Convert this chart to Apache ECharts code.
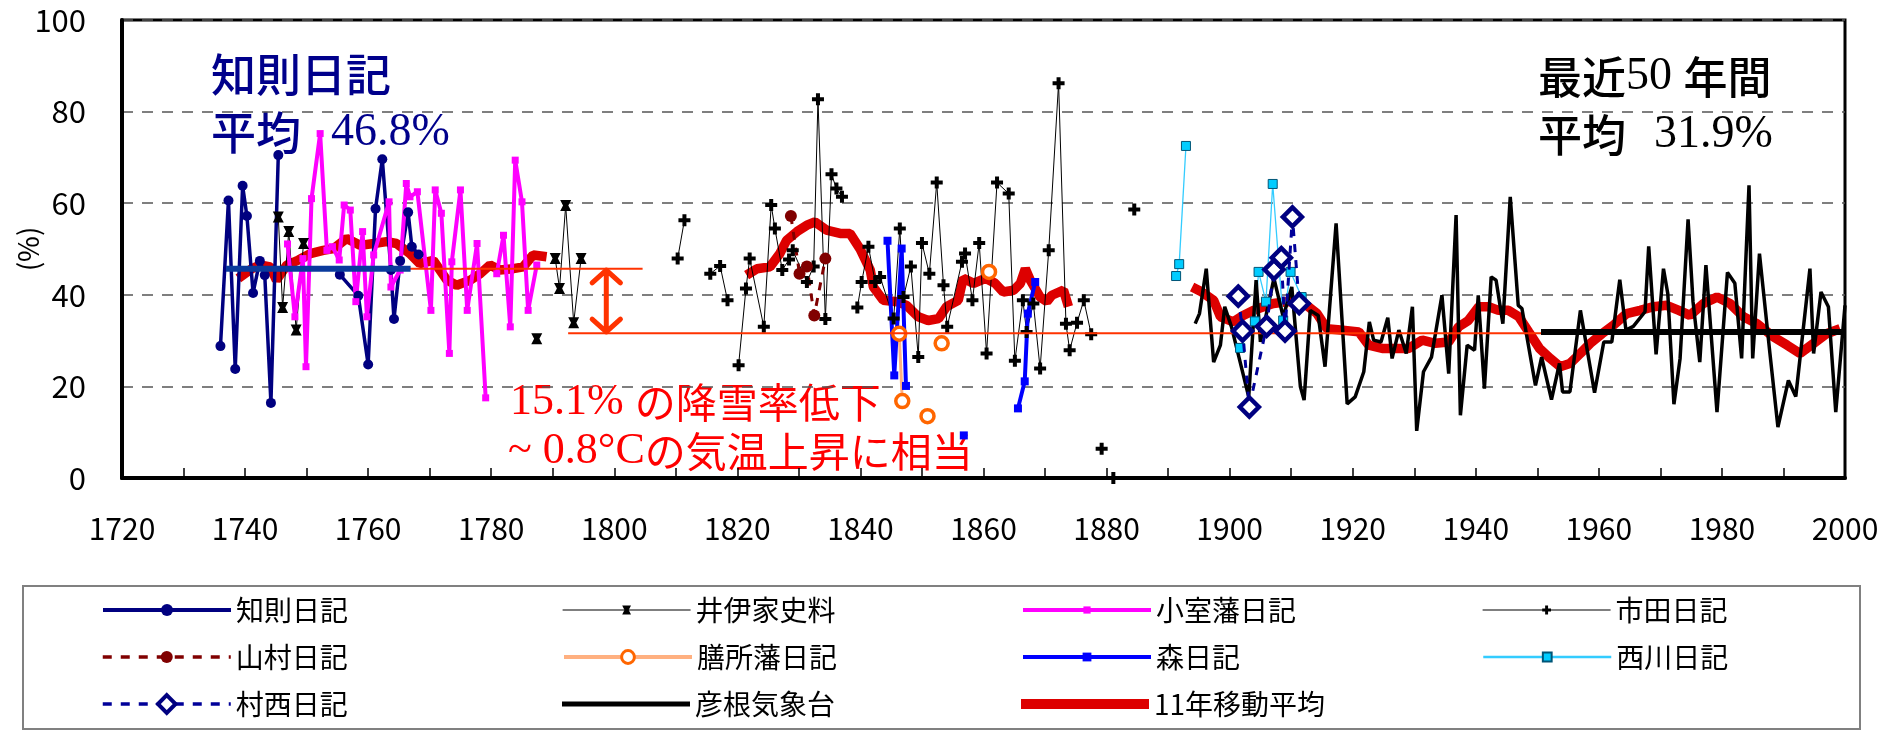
<!DOCTYPE html>
<html>
<head>
<meta charset="utf-8">
<script src="https://cdn.jsdelivr.net/npm/echarts@6/dist/echarts.min.js"></script>
<style>
html,body{margin:0;padding:0;background:#fff;}
#chart{width:1885px;height:732px;}
</style>
</head>
<body>
<div id="chart"></div>
<script>
// ---- data (year, snowfall ratio %) ----
const tomonori = [[1736.0,28.8],[1737.3,60.6],[1738.4,23.8],[1739.6,63.8],[1740.3,57.2],[1741.3,40.4],[1742.4,47.4],[1743.2,44.3],[1744.2,16.4],[1745.4,70.5],[1750,null],[1755.4,44.4],[1758.4,39.8],[1760.0,24.8],[1761.2,58.8],[1762.3,69.6],[1763.7,45.4],[1764.2,34.7],[1765.2,47.4],[1766.5,58.0],[1767.1,50.5],[1768.2,48.8]];
const iiKe = [[1745.4,57.0],[1746.1,37.2],[1747.1,53.8],[1748.3,32.3],[1749.5,51.2],[1750,null],[1787.4,30.4],[1788,null],[1790.4,47.9],[1791.1,41.4],[1792.1,59.5],[1793.4,33.9],[1794.6,47.9]];
const komuro = [[1746.9,51.1],[1748.1,35.2],[1749.4,47.9],[1749.9,24.3],[1750.8,61.0],[1752.2,75.2],[1753.3,49.7],[1754.2,50.5],[1755.3,47.6],[1756.1,59.6],[1757.1,58.5],[1758.0,38.5],[1759.1,53.8],[1759.8,35.2],[1760.9,48.7],[1763.4,60.3],[1763.7,41.7],[1765.2,45.4],[1766.2,64.3],[1766.8,61.4],[1768.0,62.5],[1770.2,36.6],[1770.9,62.9],[1771.9,57.8],[1773.2,27.2],[1773.6,47.2],[1775.0,62.9],[1776.1,36.6],[1777.7,51.2],[1779.1,17.5],[1780,null],[1780.9,44.6],[1782.0,53.0],[1783.1,33.0],[1783.9,69.4],[1785.0,60.3],[1786.0,36.6],[1787.4,46.5]];
const ichida = [[1810.3,47.9],[1811.4,56.3],[1813,null],[1815.6,44.6],[1817.2,46.3],[1818.4,38.8],[1819,null],[1820.2,24.6],[1821.4,41.4],[1822.0,47.9],[1824.3,33.0],[1825.5,59.6],[1826.1,54.5],[1827.3,45.4],[1828.4,47.7],[1829.0,49.7],[1831.3,42.8],[1832.4,46.2],[1833.1,82.7],[1834.3,34.7],[1835.3,66.3],[1836.1,63.2],[1837.0,61.4],[1838,null],[1839.5,37.2],[1840.2,42.8],[1841.3,50.5],[1842.4,42.8],[1843.2,43.9],[1845.4,34.8],[1846.4,54.5],[1847.0,39.5],[1848.2,46.2],[1849.4,26.4],[1850.0,51.3],[1851.2,44.6],[1852.4,64.5],[1853.5,42.1],[1854.1,33.0],[1856.5,47.2],[1857.0,49.0],[1858.2,38.8],[1859.3,51.3],[1860.5,27.2],[1862.2,64.5],[1864.1,62.1],[1865.1,25.6],[1866.4,38.8],[1867.0,31.9],[1868.1,38.1],[1869.2,23.9],[1870.6,49.7],[1872.2,86.2],[1873.4,33.7],[1874.0,27.9],[1875.2,33.9],[1876.3,38.8],[1877.5,31.4],[1878,null],[1879.2,6.4],[1880,null],[1881.1,0],[1882,null],[1884.5,58.6]];
const yamamura = [[1828.7,57.2],[1830.1,44.6],[1831.3,46.2],[1832.5,35.5],[1834.3,47.9]];
const zeze = [[1846.3,31.5],[1846.8,16.8],[1848,null],[1850.9,13.5],[1852,null],[1853.2,29.4],[1854,null],[1860.9,45.0]];
const mori = [[1844.4,51.8],[1845.5,22.4],[1846.7,50.1],[1847.4,20.1],[1848,null],[1856.8,9.3],[1858,null],[1865.6,15.2],[1866.7,21.1],[1867.2,35.9],[1868.4,42.8]];
const nishikawa = [[1891.3,44.1],[1891.8,46.7],[1892.9,72.5],[1895,null],[1901.7,28.4],[1904.1,34.2],[1904.7,45.0],[1905.9,38.5],[1907.0,64.2],[1908.7,34.4],[1909.9,45.0],[1911.7,39.5]];
const muranishi = [[1901.4,39.7],[1902.1,32.1],[1903.2,15.5],[1906.0,33.1],[1907.2,45.5],[1908.4,48.1],[1909.0,32.1],[1910.2,57.0],[1911.3,38.1]];
const hikone = [[1894.4,33.7],[1895.1,35.9],[1896.2,45.7],[1897.4,25.3],[1898.5,29.0],[1899.2,37.4],[1900.3,33.0],[1903.1,17.7],[1904.3,43.2],[1905.0,29.7],[1907.2,43.6],[1908.7,35.2],[1910.1,41.7],[1911.5,19.9],[1912.1,17.0],[1913.1,36.6],[1914.4,35.5],[1915.5,24.3],[1917.3,55.6],[1919.1,16.2],[1920.4,17.7],[1921.8,23.2],[1922.7,34.1],[1923.4,30.1],[1924.6,29.7],[1925.7,35.0],[1926.4,26.1],[1927.5,32.3],[1928.7,27.2],[1929.7,37.4],[1930.4,10.3],[1931.5,23.2],[1932.8,26.4],[1934.5,39.9],[1935.6,22.8],[1936.8,57.4],[1937.5,13.7],[1938.6,29.0],[1939.8,27.9],[1940.4,39.9],[1941.4,19.5],[1942.5,43.9],[1943.3,43.2],[1944.4,33.7],[1945.6,61.4],[1946.9,37.7],[1947.5,37.0],[1949.7,20.2],[1950.7,26.4],[1952.3,17.1],[1953.6,25.0],[1954.1,18.8],[1955.3,18.8],[1957.0,36.6],[1959.3,18.6],[1960.8,29.7],[1962.1,29.7],[1963.4,43.3],[1964.4,32.3],[1965.6,33.1],[1967.5,36.3],[1968.1,50.6],[1969.3,27.0],[1970.5,45.7],[1971.2,40.3],[1972.2,16.1],[1973.2,26.1],[1974.5,56.5],[1975.3,38.5],[1976.4,25.3],[1977.4,46.5],[1979.2,14.4],[1980.9,44.9],[1982.1,42.5],[1983.2,26.1],[1984.4,63.9],[1985.0,26.1],[1986.1,49.0],[1987.8,27.2],[1989.1,11.1],[1990.8,21.3],[1992.0,17.8],[1994.3,45.7],[1994.9,27.2],[1996.1,40.6],[1997.3,37.4],[1998.5,14.4],[2000.0,37.7]];
const movingAvg = [[1738.9,43.6],[1741.1,45.7],[1742.4,46.5],[1744.1,46.1],[1745.1,43.2],[1746.8,46.5],[1748.7,47.6],[1750.6,49.0],[1752.7,49.7],[1754.4,50.1],[1756.5,52.3],[1758.7,50.8],[1760.9,51.2],[1763.0,51.6],[1764.6,51.2],[1766.8,49.0],[1768.4,46.8],[1770.6,47.5],[1772.8,43.2],[1774.4,42.1],[1776.6,43.2],[1778.2,44.6],[1779.8,46.5],[1781.4,45.4],[1783.6,45.7],[1785.2,46.1],[1786.8,48.7],[1789.0,48.3],[1800,null],
 [1821.5,44.3],[1823.2,45.7],[1825.3,46.1],[1826.9,49.0],[1828.0,51.9],[1829.7,53.8],[1831.3,55.2],[1832.6,55.9],[1834.5,54.1],[1836.7,53.4],[1838.3,53.4],[1839.9,50.1],[1841.6,45.4],[1842.1,41.7],[1843.7,38.8],[1845.9,38.5],[1847.5,37.7],[1849.4,35.2],[1851.0,34.4],[1852.7,34.8],[1854.0,37.4],[1855.9,38.8],[1856.7,43.6],[1858.4,42.5],[1860.3,43.6],[1861.9,42.5],[1863.2,40.6],[1864.9,41.0],[1866.0,42.5],[1866.8,45.7],[1867.6,43.2],[1869.2,39.5],[1870.3,38.5],[1871.1,39.9],[1873.0,41.0],[1873.8,37.4],[1880,null],
 [1893.9,41.7],[1895.5,40.6],[1897.4,38.8],[1898.5,35.2],[1900.6,34.1],[1902.2,35.5],[1903.9,36.6],[1905.5,37.4],[1907.1,38.1],[1909.3,38.5],[1910.9,38.5],[1912.5,37.7],[1914.2,35.9],[1915.8,32.6],[1918.0,32.3],[1921.0,31.9],[1922.6,29.0],[1924.8,28.3],[1926.9,28.3],[1929.1,28.3],[1931.3,30.1],[1933.4,29.4],[1935.6,29.7],[1937.2,33.0],[1938.8,34.4],[1940.5,37.4],[1942.1,37.4],[1943.7,36.6],[1945.3,36.6],[1947.0,35.2],[1948.6,31.9],[1950.4,28.2],[1952.1,26.1],[1953.7,24.3],[1955.3,25.0],[1957.0,27.2],[1958.6,29.4],[1960.5,31.5],[1962.4,33.4],[1964.5,35.9],[1966.7,36.6],[1968.9,37.4],[1971.0,37.7],[1973.0,36.6],[1974.8,35.5],[1977.0,38.1],[1979.2,39.5],[1981.3,38.1],[1983.5,35.2],[1985.7,33.7],[1988.4,30.8],[1990.6,29.0],[1992.7,27.2],[1994.9,29.4],[1997.0,31.5],[1999.2,32.6]];
const meanTomonori = [[1736.9,45.7],[1766.9,45.7]];
const refUpper = [[1737.0,45.7],[1804.6,45.7]];
const refLower = [[1792.5,31.6],[1950.8,31.6]];
const meanRecent = [[1950.6,31.9],[1999.5,31.9]];
const arrowPts = [[1796.4,42.6],[1798.7,45.4],[1801.0,42.6],[1798.7,null],[1798.7,45.4],[1798.7,31.9],[1798.7,null],[1796.4,34.7],[1798.7,31.9],[1801.0,34.7]];
const xTicks = {min:1720, max:2000, step:10, labelStep:20};
const yTicks = {min:0, max:100, step:20};

const JP = 'Noto Sans CJK JP';
const hourglass = 'path://M0,0L10,0L7.4,5L10,10L0,10L2.6,5Z';
const plus = 'path://M4,0H8V4H12V8H8V12H4V8H0V4H4Z';

function lineSeries(name, data, o) {
  return Object.assign({
    name: name, type: 'line', data: data, animation: false,
    showSymbol: true, connectNulls: false, silent: true,
    emphasis: {disabled: true}
  }, o);
}

const series = [
  lineSeries('11年移動平均', movingAvg, {symbol:'none', z:1, itemStyle:{color:'#dd0000'}, lineStyle:{color:'#dd0000', width:9.5}}),
  lineSeries('知則日記', tomonori, {symbol:'circle', symbolSize:10, z:2, itemStyle:{color:'#000080'}, lineStyle:{color:'#000080', width:3.5}}),
  lineSeries('井伊家史料', iiKe, {symbol:hourglass, symbolSize:11, z:2, itemStyle:{color:'#000'}, lineStyle:{color:'#000', width:1}}),
  lineSeries('小室藩日記', komuro, {symbol:'rect', symbolSize:7, z:2, itemStyle:{color:'#ff00ff'}, lineStyle:{color:'#ff00ff', width:4}}),
  lineSeries('市田日記', ichida, {symbol:plus, symbolSize:12, z:2, itemStyle:{color:'#000'}, lineStyle:{color:'#000', width:1}}),
  lineSeries('山村日記', yamamura, {symbol:'circle', symbolSize:12, z:2, itemStyle:{color:'#800000'}, lineStyle:{color:'#800000', width:3, type:[8,8]}}),
  lineSeries('膳所藩日記', zeze, {symbol:'circle', symbolSize:13, z:2, itemStyle:{color:'#ffffff', borderColor:'#ff6600', borderWidth:3.5}, lineStyle:{color:'#ffb080', width:3}}),
  lineSeries('森日記', mori, {symbol:'rect', symbolSize:8, z:2, itemStyle:{color:'#0000ff'}, lineStyle:{color:'#0000ff', width:4}}),
  lineSeries('西川日記', nishikawa, {symbol:'rect', symbolSize:9, z:2, itemStyle:{color:'#00ccff', borderColor:'#005577', borderWidth:1}, lineStyle:{color:'#33ccff', width:1.3}}),
  lineSeries('村西日記', muranishi, {symbol:'diamond', symbolSize:19, z:3, itemStyle:{color:'#ffffff', borderColor:'#000080', borderWidth:4.5}, lineStyle:{color:'#000099', width:3, type:[8,8]}}),
  lineSeries('彦根気象台', hikone, {symbol:'none', z:2, itemStyle:{color:'#000'}, lineStyle:{color:'#000', width:3.5}}),
  lineSeries('mean1', meanTomonori, {symbol:'none', z:4, lineStyle:{color:'#0a3a9c', width:6}}),
  lineSeries('ref1', refUpper, {symbol:'none', z:3, lineStyle:{color:'#ff3300', width:2}}),
  lineSeries('ref2', refLower, {symbol:'none', z:3, lineStyle:{color:'#ff3300', width:2}}),
  lineSeries('mean2', meanRecent, {symbol:'none', z:4, lineStyle:{color:'#000', width:6}}),
  lineSeries('arrow', arrowPts, {symbol:'none', z:4, lineStyle:{color:'#ff3300', width:5, cap:'round'}})
];

const legendCols = [101, 562, 1021, 1482];
const legendRows = [596, 643, 690];
const legendItems = [
  {name:'知則日記', h:15, lw:4},
  {name:'井伊家史料', h:11, lw:1.2},
  {name:'小室藩日記', h:9, lw:4},
  {name:'市田日記', h:11, lw:1.2},
  {name:'山村日記', h:15, lw:3.5, dash:[9,9]},
  {name:'膳所藩日記', h:16, lw:4, bw:3},
  {name:'森日記', h:11, lw:4},
  {name:'西川日記', h:11, lw:2.5},
  {name:'村西日記', h:22, lw:3.5, dash:[9,9], bw:4},
  {name:'彦根気象台', h:5, icon:'rect'},
  {name:'11年移動平均', h:10, icon:'rect'}
];
const legends = legendItems.map((it, i) => {
  const lg = {
    data: [it.icon ? {name: it.name, icon: it.icon} : {name: it.name}],
    left: legendCols[i % 4], top: legendRows[Math.floor(i / 4)],
    padding: 0, itemWidth: 128, itemHeight: it.h, selectedMode: false,
    textStyle: {fontSize: 28, fontFamily: JP, color: '#000'}
  };
  if (!it.icon) {
    lg.lineStyle = {width: it.lw, type: it.dash || 'solid'};
    if (it.bw) lg.itemStyle = {borderWidth: it.bw};
  }
  return lg;
});

const jpFont = (s, w) => (w || 'normal') + ' ' + s + 'px "Noto Sans CJK JP"';
const serifFont = s => s + 'px "Liberation Serif"';
const TITLE_W = '500';

const chart = echarts.init(document.getElementById('chart'), null, {renderer: 'canvas'});
chart.setOption({
  animation: false,
  backgroundColor: '#fff',
  grid: {left: 122, right: 40, top: 20, bottom: 254, show: true, borderColor: '#000', borderWidth: 3,
    containLabel: false, outerBoundsMode: 'none'},
  xAxis: {
    type: 'value', min: xTicks.min, max: xTicks.max, interval: xTicks.step,
    axisLine: {lineStyle: {color: '#000', width: 4}},
    axisTick: {inside: true, length: 10, lineStyle: {color: '#000', width: 1.5}},
    axisLabel: {margin: 36, fontSize: 30, fontFamily: JP, color: '#000',
      formatter: v => (v % xTicks.labelStep === 0 ? String(v) : '')},
    splitLine: {show: false}
  },
  yAxis: {
    type: 'value', min: yTicks.min, max: yTicks.max, interval: yTicks.step,
    name: '(%)', nameLocation: 'middle', nameRotate: 90, nameGap: 80, nameMoveOverlap: false,
    nameTextStyle: {fontSize: 28, fontFamily: JP, color: '#000'},
    axisLine: {show: true, lineStyle: {color: '#000', width: 4}},
    axisTick: {show: false},
    axisLabel: {margin: 36, fontSize: 31, fontFamily: JP, color: '#000'},
    splitLine: {show: true, lineStyle: {color: '#555', width: 1.5, type: [11, 9]}}
  },
  legend: legends,
  series: series,
  graphic: [
    {type: 'rect', shape: {x: 23, y: 586, width: 1837, height: 143}, style: {fill: 'none', stroke: '#808080', lineWidth: 2}, silent: true, z: -1},
    {type: 'text', x: 211, y: 75, style: {text: '知則日記', fill: '#00008b', font: jpFont(45, TITLE_W), verticalAlign: 'middle'}},
    {type: 'text', x: 211, y: 133, style: {text: '{j|平均}{s|46.8%}', fill: '#00008b', verticalAlign: 'middle',
      rich: {j: {font: jpFont(45, TITLE_W), fill: '#00008b'}, s: {font: serifFont(46), fill: '#00008b', padding: [0, 0, 0, 30]}}}},
    {type: 'text', x: 1538, y: 77, style: {text: '{j|最近}{s|50 }{j|年間}', fill: '#000', verticalAlign: 'middle',
      rich: {j: {font: jpFont(44, TITLE_W), fill: '#000'}, s: {font: serifFont(46), fill: '#000'}}}},
    {type: 'text', x: 1538, y: 135, style: {text: '{j|平均}{s|31.9%}', fill: '#000', verticalAlign: 'middle',
      rich: {j: {font: jpFont(44, TITLE_W), fill: '#000'}, s: {font: serifFont(46), fill: '#000', padding: [0, 0, 0, 28]}}}},
    {type: 'text', x: 510, y: 402, style: {text: '{s|15.1% }{j|の降雪率低下}', fill: '#ff0000', verticalAlign: 'middle',
      rich: {j: {font: jpFont(41), fill: '#ff0000'}, s: {font: serifFont(44), fill: '#ff0000'}}}},
    {type: 'text', x: 508, y: 451, style: {text: '{s|~ 0.8°C}{j|の気温上昇に相当}', fill: '#ff0000', verticalAlign: 'middle',
      rich: {j: {font: jpFont(41), fill: '#ff0000'}, s: {font: serifFont(44), fill: '#ff0000'}}}}
  ]
});
</script>
</body>
</html>
